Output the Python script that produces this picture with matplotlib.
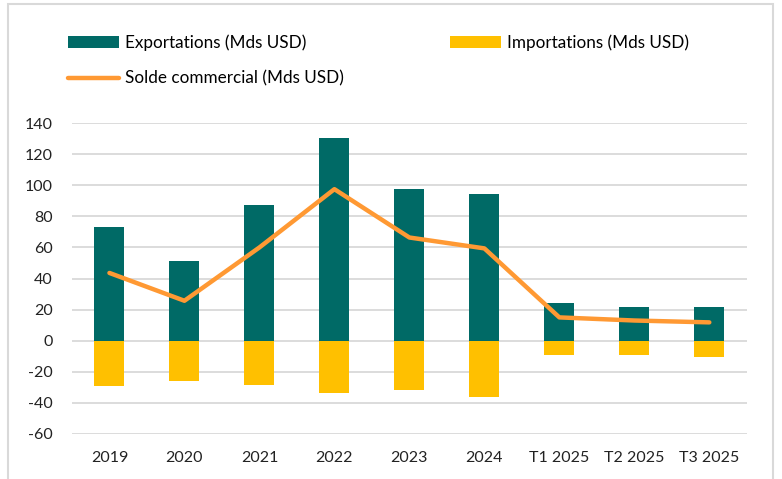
import numpy as np
import matplotlib.pyplot as plt
from matplotlib.patches import Rectangle

plt.rcParams['font.family'] = ['Lato', 'DejaVu Sans']
plt.rcParams['axes.unicode_minus'] = False

periods = ['2019', '2020', '2021', '2022', '2023', '2024', 'T1 2025', 'T2 2025', 'T3 2025']
exports = [73, 51.5, 87, 130.5, 97.5, 94.5, 24, 22, 22]
imports = [-29.4, -26, -28.3, -33.8, -31.5, -36, -9.3, -9.3, -10.6]
balance = [43.6, 25.7, 60, 97.5, 66.4, 59.4, 15, 13, 11.8]

c_exp = '#006A66'
c_imp = '#FFC000'
c_bal = '#FF9933'

fig = plt.figure(figsize=(7.82, 4.79), dpi=100)
ax = fig.add_axes([0.092, 0.094, 0.863, 0.649])

x = np.arange(len(periods))
b1 = ax.bar(x, exports, width=0.4, color=c_exp, zorder=2, label='Exportations (Mds USD)')
b2 = ax.bar(x, imports, width=0.4, color=c_imp, zorder=2, label='Importations (Mds USD)')
l1, = ax.plot(x, balance, color=c_bal, lw=3.2, solid_capstyle='round', zorder=3,
              label='Solde commercial (Mds USD)')

ax.set_xlim(-0.5, len(periods) - 0.5)
ax.set_ylim(-60, 140)
ax.set_yticks(range(-60, 141, 20))
ax.set_xticks(x)
ax.set_xticklabels(periods)
ax.grid(axis='y', color='#d9d9d9', lw=1.3, zorder=0)
ax.set_axisbelow(True)
for s in ax.spines.values():
    s.set_visible(False)
ax.tick_params(length=0, labelsize=11.5, colors='#222222')
ax.tick_params(axis='y', pad=14)
ax.tick_params(axis='x', pad=12)

fig.legend(handles=[b1, l1, b2], ncol=2, loc='upper left', bbox_to_anchor=(0.078, 0.942),
           frameon=False, fontsize=12.3, handlelength=3.0, handleheight=0.65,
           handletextpad=0.35, columnspacing=6.2, labelspacing=1.12, borderaxespad=0)

# light frame around the whole chart
fig.patches.append(Rectangle((0.0105, -0.02), 0.978, 1.011, transform=fig.transFigure,
                             fill=False, edgecolor='#d9d9d9', lw=1.5))

fig.savefig('out.png', dpi=100)
